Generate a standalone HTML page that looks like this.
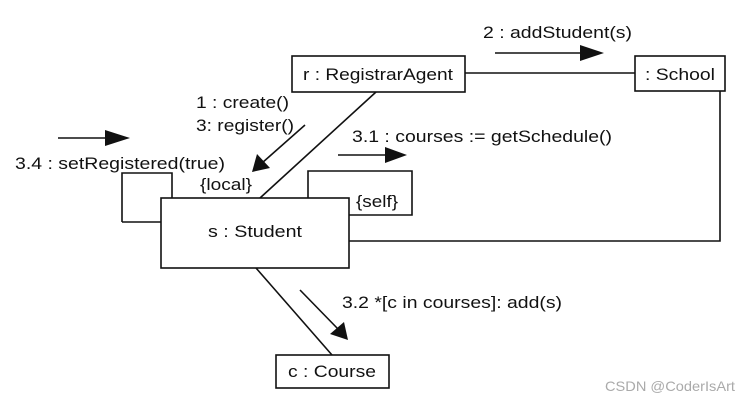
<!DOCTYPE html>
<html><head><meta charset="utf-8"><style>body{margin:0;background:#fff}svg{display:block}</style></head><body>
<svg width="748" height="400" viewBox="0 0 748 400" xmlns="http://www.w3.org/2000/svg" font-family="Liberation Sans, Arial, sans-serif" font-size="17" fill="#111">
<g stroke="#111" stroke-width="1.6" fill="none">
<rect x="292" y="56" width="173" height="36" fill="#fff"/>
<rect x="635" y="56" width="90" height="35" fill="#fff"/>
<line x1="465" y1="73" x2="635" y2="73"/>
<polyline points="720,91 720,241 349,241"/>
<line x1="376" y1="92" x2="260" y2="198"/>
<polyline points="122,222 122,173 172,173 172,198"/>
<line x1="122" y1="222" x2="161" y2="222"/>
<polyline points="308,198 308,171 412,171 412,215 349,215"/>
<line x1="256" y1="268" x2="332" y2="355"/>
<rect x="161" y="198" width="188" height="70" fill="#fff"/>
<rect x="276" y="355" width="113" height="33" fill="#fff"/>
<line x1="495" y1="53" x2="582" y2="53"/>
<line x1="58" y1="138" x2="107" y2="138"/>
<line x1="338" y1="155" x2="387" y2="155"/>
<line x1="305" y1="125" x2="262" y2="163"/>
<line x1="300" y1="290" x2="338" y2="329"/>
</g>
<g fill="#111">
<polygon points="580,45 604,53 580,61"/>
<polygon points="105,130 130,138 105,146"/>
<polygon points="385,147 407,155 385,163"/>
<polygon points="252,172 257,154 270,168"/>
<polygon points="348,340 330,334 344,322"/>
</g>
<text x="378" y="80" text-anchor="middle" textLength="150" lengthAdjust="spacingAndGlyphs">r : RegistrarAgent</text>
<text x="680" y="80" text-anchor="middle" textLength="70" lengthAdjust="spacingAndGlyphs">: School</text>
<text x="483" y="38" textLength="149" lengthAdjust="spacingAndGlyphs">2 : addStudent(s)</text>
<text x="196" y="108" textLength="93" lengthAdjust="spacingAndGlyphs">1 : create()</text>
<text x="196" y="131" textLength="98" lengthAdjust="spacingAndGlyphs">3: register()</text>
<text x="15" y="169" textLength="210" lengthAdjust="spacingAndGlyphs">3.4 : setRegistered(true)</text>
<text x="200" y="190" textLength="52" lengthAdjust="spacingAndGlyphs">{local}</text>
<text x="356" y="207" textLength="42" lengthAdjust="spacingAndGlyphs">{self}</text>
<text x="352" y="142" textLength="260" lengthAdjust="spacingAndGlyphs">3.1 : courses := getSchedule()</text>
<text x="255" y="237" text-anchor="middle" textLength="94" lengthAdjust="spacingAndGlyphs">s : Student</text>
<text x="342" y="308" textLength="220" lengthAdjust="spacingAndGlyphs">3.2 *[c in courses]: add(s)</text>
<text x="332" y="377" text-anchor="middle" textLength="88" lengthAdjust="spacingAndGlyphs">c : Course</text>
<text x="605" y="391" font-size="14" fill="#aaa" textLength="130" lengthAdjust="spacingAndGlyphs">CSDN @CoderIsArt</text>
</svg>
</body></html>
